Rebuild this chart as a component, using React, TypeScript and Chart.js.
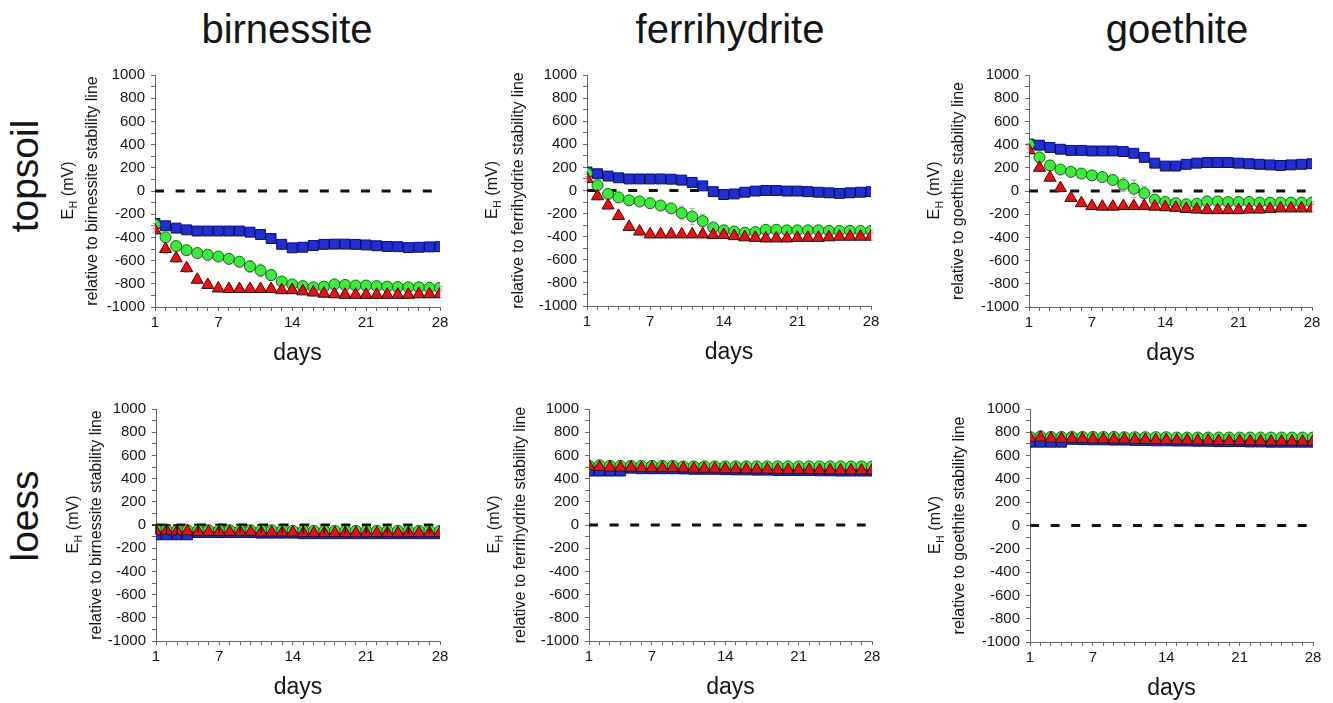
import React, { useEffect, useRef } from 'react';
import { Chart, registerables } from 'chart.js';

Chart.register(...registerables);
Chart.defaults.font.family = '"Liberation Sans", Arial, sans-serif';

// ---------- data ----------
const days = [1, 2, 3, 4, 5, 6, 7, 8, 9, 10, 11, 12, 13, 14, 15, 16, 17, 18, 19, 20, 21, 22, 23, 24, 25, 26, 27, 28];
const dayTickLabels = [1, 7, 14, 21, 28];
const yTickValues = [-1000, -900, -800, -700, -600, -500, -400, -300, -200, -100, 0, 100, 200, 300, 400, 500, 600, 700, 800, 900, 1000];
const yLabelledTicks = [-1000, -800, -600, -400, -200, 0, 200, 400, 600, 800, 1000];
const stabilityDays = [1, 27.4];
const stabilityLevel = 0;

const minerals = ['birnessite', 'ferrihydrite', 'goethite'];
const soils = ['topsoil', 'loess'];

// topsoil – birnessite
const topBirSquares = [-280, -300, -320, -335, -345, -345, -345, -345, -345, -355, -375, -410, -460, -490, -485, -470, -460, -458, -458, -460, -465, -472, -478, -480, -488, -485, -482, -480];
const topBirCircles = [-290, -400, -475, -510, -535, -550, -565, -585, -610, -650, -685, -725, -780, -805, -820, -830, -825, -805, -810, -815, -815, -820, -825, -828, -830, -830, -835, -835];
const topBirTriangles = [-340, -500, -580, -665, -765, -810, -840, -845, -845, -845, -845, -845, -855, -855, -865, -875, -885, -890, -895, -895, -895, -895, -895, -895, -895, -890, -890, -890];
const topBirCirclesErr = [10, 15, 15, 15, 15, 15, 20, 25, 30, 50, 55, 45, 25, 15, 15, 10, 10, 10, 10, 10, 10, 10, 10, 10, 10, 10, 10, 10];
const topBirTrianglesErr = [20, 40, 35, 35, 35, 30, 30, 30, 30, 30, 30, 30, 30, 30, 30, 30, 30, 30, 30, 30, 30, 30, 30, 30, 30, 30, 30, 30];

// topsoil – ferrihydrite
const topFerSquares = [160, 145, 125, 110, 100, 100, 100, 100, 98, 90, 70, 40, -10, -35, -30, -15, -5, 0, 0, -5, -5, -10, -15, -20, -25, -20, -15, -10];
const topFerCircles = [150, 45, -30, -60, -85, -95, -110, -130, -155, -195, -225, -265, -320, -345, -355, -365, -360, -340, -340, -345, -345, -345, -345, -350, -350, -350, -350, -350];
const topFerTriangles = [100, -50, -130, -220, -315, -355, -380, -380, -380, -380, -380, -380, -385, -385, -395, -405, -410, -415, -415, -415, -410, -410, -410, -405, -400, -400, -400, -400];
const topFerCirclesErr = [10, 15, 15, 15, 15, 15, 20, 25, 30, 60, 70, 60, 30, 15, 15, 10, 10, 10, 10, 10, 10, 10, 10, 10, 10, 10, 10, 10];
const topFerTrianglesErr = [20, 30, 30, 30, 30, 30, 30, 30, 30, 30, 30, 30, 30, 30, 30, 30, 30, 30, 30, 30, 30, 30, 30, 30, 30, 30, 30, 30];

// topsoil – goethite
const topGoeSquares = [405, 395, 375, 360, 350, 350, 345, 345, 345, 340, 325, 290, 240, 215, 215, 230, 240, 245, 245, 245, 240, 235, 230, 225, 220, 225, 230, 235];
const topGoeCircles = [400, 290, 220, 185, 165, 150, 135, 120, 95, 55, 20, -20, -75, -95, -105, -115, -110, -90, -90, -95, -95, -95, -100, -100, -100, -100, -100, -100];
const topGoeTriangles = [350, 200, 115, 25, -60, -105, -130, -135, -135, -130, -130, -130, -135, -140, -145, -155, -160, -165, -165, -165, -165, -160, -160, -155, -150, -150, -150, -150];
const topGoeCirclesErr = [10, 15, 15, 15, 15, 15, 20, 25, 30, 60, 75, 60, 30, 15, 15, 10, 10, 10, 10, 10, 10, 10, 10, 10, 10, 10, 10, 10];
const topGoeTrianglesErr = [20, 30, 30, 30, 30, 30, 30, 30, 30, 30, 30, 30, 30, 30, 30, 30, 30, 30, 30, 30, 30, 30, 30, 30, 30, 30, 30, 30];

// loess – birnessite
const loeBirSquares = [-85, -85, -85, -85, -65, -65, -65, -65, -65, -65, -70, -70, -70, -70, -75, -75, -75, -75, -75, -75, -75, -75, -75, -75, -75, -75, -75, -75];
const loeBirCircles = [-40, -40, -45, -45, -45, -45, -45, -45, -45, -45, -45, -45, -45, -50, -50, -50, -50, -50, -50, -50, -50, -50, -50, -50, -50, -50, -50, -50];
const loeBirTriangles = [-55, -50, -55, -55, -60, -60, -60, -60, -60, -60, -65, -65, -65, -65, -70, -70, -70, -70, -70, -70, -70, -70, -70, -70, -70, -70, -70, -70];
const loeBirSquaresErr = [85, 85, 85, 0, 70, 0, 70, 0, 70, 0, 72, 0, 72, 0, 78, 0, 78, 0, 78, 0, 78, 0, 78, 0, 78, 0, 78, 0];

// loess – ferrihydrite
const loeFerSquares = [465, 465, 465, 465, 490, 485, 485, 485, 485, 483, 480, 480, 480, 477, 475, 475, 473, 473, 470, 470, 470, 470, 467, 467, 465, 465, 465, 465];
const loeFerCircles = [510, 515, 510, 510, 510, 510, 510, 510, 510, 505, 505, 505, 505, 505, 505, 505, 505, 505, 505, 505, 505, 505, 505, 505, 505, 505, 505, 505];
const loeFerTriangles = [505, 500, 495, 495, 495, 490, 490, 490, 490, 488, 485, 485, 485, 482, 480, 480, 478, 478, 475, 475, 475, 475, 472, 472, 470, 470, 470, 470];

// loess – goethite
const loeGoeSquares = [715, 715, 715, 715, 740, 737, 735, 735, 733, 733, 730, 730, 727, 727, 725, 725, 723, 723, 720, 720, 720, 717, 717, 715, 715, 715, 715, 715];
const loeGoeCircles = [760, 765, 760, 760, 760, 760, 760, 760, 760, 758, 758, 758, 758, 758, 755, 755, 755, 755, 755, 755, 755, 755, 755, 755, 755, 755, 755, 755];
const loeGoeTriangles = [750, 755, 745, 745, 745, 742, 740, 740, 738, 738, 735, 735, 732, 732, 730, 730, 728, 728, 725, 725, 725, 722, 722, 720, 720, 720, 720, 720];

// ---------- styles ----------
const SQ_FILL = '#1f2fd4';
const SQ_EDGE = '#0c0c5a';
const CI_FILL = '#3cec3c';
const CI_EDGE = '#1e5a1e';
const TR_FILL = '#dc1616';
const TR_EDGE = '#560000';
const AXIS = '#666666';
const TEXT = '#151515';
const FONT = '"Liberation Sans", Arial, sans-serif';

const Y_AXIS_W = 105;
const PAD_TOP = 15;
const PAD_RIGHT = 20;
const X_AXIS_H = 63;

type Panel = {
  mineral: string;
  rect: [number, number, number, number];
  titleOff: [number, number];
  squares: number[];
  circles: number[];
  triangles: number[];
  squaresErr?: number[];
  circlesErr?: number[];
  trianglesErr?: number[];
  squaresErrBlack?: boolean;
};

const panels: Panel[] = [
  { mineral: minerals[0], rect: [155, 440, 75, 307], titleOff: [86, 62], squares: topBirSquares, circles: topBirCircles, triangles: topBirTriangles, circlesErr: topBirCirclesErr, trianglesErr: topBirTrianglesErr },
  { mineral: minerals[1], rect: [587, 871, 75, 306], titleOff: [94, 68], squares: topFerSquares, circles: topFerCircles, triangles: topFerTriangles, circlesErr: topFerCirclesErr, trianglesErr: topFerTrianglesErr },
  { mineral: minerals[2], rect: [1029, 1312, 75, 307], titleOff: [94, 70], squares: topGoeSquares, circles: topGoeCircles, triangles: topGoeTriangles, circlesErr: topGoeCirclesErr, trianglesErr: topGoeTrianglesErr },
  { mineral: minerals[0], rect: [156, 440, 409, 641], titleOff: [82, 59], squares: loeBirSquares, circles: loeBirCircles, triangles: loeBirTriangles, squaresErr: loeBirSquaresErr, squaresErrBlack: true },
  { mineral: minerals[1], rect: [589, 872, 409, 641], titleOff: [94, 68], squares: loeFerSquares, circles: loeFerCircles, triangles: loeFerTriangles },
  { mineral: minerals[2], rect: [1030, 1313, 409, 642], titleOff: [94, 70], squares: loeGoeSquares, circles: loeGoeCircles, triangles: loeGoeTriangles },
];

// ---------- plugins ----------
function drawErrors(chart: any, onTop: boolean) {
  const { ctx, scales } = chart;
  const xs = scales.x;
  const ys = scales.y;
  chart.data.datasets.forEach((ds: any) => {
    if (!ds.errors || !!ds.errorsOnTop !== onTop) return;
    ctx.save();
    ctx.strokeStyle = ds.errorColor;
    ctx.lineWidth = ds.errorWidth || 1;
    const cap = ds.errorCap || 2.5;
    ds.data.forEach((pt: any, j: number) => {
      const e = ds.errors[j];
      if (!e) return;
      const px = xs.getPixelForValue(pt.x);
      const yTop = ys.getPixelForValue(pt.y + e);
      const yBot = ds.errorsUpOnly ? ys.getPixelForValue(pt.y) : ys.getPixelForValue(pt.y - e);
      ctx.beginPath();
      ctx.moveTo(px, yTop);
      ctx.lineTo(px, yBot);
      ctx.moveTo(px - cap, yTop);
      ctx.lineTo(px + cap, yTop);
      if (!ds.errorsUpOnly) {
        ctx.moveTo(px - cap, yBot);
        ctx.lineTo(px + cap, yBot);
      }
      ctx.stroke();
    });
    ctx.restore();
  });
}

const errorBarsPlugin = {
  id: 'errorBars',
  beforeDatasetsDraw(chart: any) {
    drawErrors(chart, false);
  },
  afterDatasetsDraw(chart: any) {
    drawErrors(chart, true);
  },
};

const yTitlePlugin = {
  id: 'yTitle',
  afterDraw(chart: any, _args: any, opts: any) {
    const { ctx, chartArea } = chart;
    const yc = (chartArea.top + chartArea.bottom) / 2;
    const big = `16px ${FONT}`;
    const small = `10px ${FONT}`;
    ctx.save();
    ctx.fillStyle = TEXT;
    ctx.textBaseline = 'middle';
    ctx.textAlign = 'left';
    ctx.translate(chartArea.left - opts.off1, yc);
    ctx.rotate(-Math.PI / 2);
    ctx.font = big;
    const wE = ctx.measureText('E').width;
    const wRest = ctx.measureText(' (mV)').width;
    ctx.font = small;
    const wH = ctx.measureText('H').width;
    const x0 = -(wE + wH + wRest) / 2;
    ctx.font = big;
    ctx.fillText('E', x0, 0);
    ctx.font = small;
    ctx.fillText('H', x0 + wE + 0.5, 5);
    ctx.font = big;
    ctx.fillText(' (mV)', x0 + wE + wH + 1, 0);
    ctx.restore();

    ctx.save();
    ctx.fillStyle = TEXT;
    ctx.textBaseline = 'middle';
    ctx.textAlign = 'center';
    ctx.font = big;
    ctx.translate(chartArea.left - opts.off2, yc);
    ctx.rotate(-Math.PI / 2);
    ctx.fillText(`relative to ${opts.mineral} stability line`, 0, 0);
    ctx.restore();
  },
};

// ---------- components ----------
function PanelChart({ p }: { p: Panel }) {
  const ref = useRef<HTMLCanvasElement>(null);
  const [L, R, T, B] = p.rect;
  const left = L - Y_AXIS_W;
  const top = T - PAD_TOP;
  const width = R - L + Y_AXIS_W + PAD_RIGHT;
  const height = B - T + PAD_TOP + X_AXIS_H;

  useEffect(() => {
    if (!ref.current) return;
    const toPts = (vals: number[]) => days.map((d, i) => ({ x: d, y: vals[i] }));
    const chart = new Chart(ref.current, {
      type: 'scatter',
      data: {
        datasets: [
          {
            data: stabilityDays.map((d) => ({ x: d, y: stabilityLevel })),
            showLine: true,
            borderColor: '#111111',
            borderWidth: 3,
            borderDash: [9, 11.6],
            pointRadius: 0,
            order: 4,
          } as any,
          {
            data: toPts(p.squares),
            pointStyle: 'rect',
            pointRadius: 7,
            backgroundColor: SQ_FILL,
            borderColor: SQ_EDGE,
            borderWidth: 1,
            order: 3,
            errors: p.squaresErr,
            errorColor: p.squaresErrBlack ? '#111111' : '#aaaaaa',
            errorsOnTop: !!p.squaresErrBlack,
            errorsUpOnly: !!p.squaresErrBlack,
            errorCap: p.squaresErrBlack ? 4 : 2.5,
            errorWidth: p.squaresErrBlack ? 1.5 : 1,
          } as any,
          {
            data: toPts(p.circles),
            pointStyle: 'circle',
            pointRadius: 5.5,
            backgroundColor: CI_FILL,
            borderColor: CI_EDGE,
            borderWidth: 1,
            order: 2,
            errors: p.circlesErr,
            errorColor: '#aaaaaa',
          } as any,
          {
            data: toPts(p.triangles),
            pointStyle: 'triangle',
            pointRadius: 7,
            backgroundColor: TR_FILL,
            borderColor: TR_EDGE,
            borderWidth: 1,
            order: 1,
            errors: p.trianglesErr,
            errorColor: '#aaaaaa',
          } as any,
        ],
      },
      options: {
        responsive: false,
        animation: false,
        devicePixelRatio: 1,
        layout: { padding: { top: PAD_TOP, right: PAD_RIGHT, left: 0, bottom: 0 } },
        plugins: {
          legend: { display: false },
          tooltip: { enabled: false },
          yTitle: { mineral: p.mineral, off1: p.titleOff[0], off2: p.titleOff[1] },
        } as any,
        scales: {
          x: {
            type: 'linear',
            min: days[0],
            max: days[days.length - 1],
            afterBuildTicks: (s: any) => {
              s.ticks = days.map((v) => ({ value: v }));
            },
            afterFit: (s: any) => {
              s.height = X_AXIS_H;
            },
            ticks: {
              autoSkip: false,
              maxRotation: 0,
              padding: 3,
              color: TEXT,
              font: { size: 15 },
              callback: (v: any) => (dayTickLabels.includes(Number(v)) ? String(v) : ''),
            },
            grid: { drawOnChartArea: false, tickLength: 4, color: AXIS },
            border: { color: AXIS, width: 1 },
            title: {
              display: true,
              text: 'days',
              color: TEXT,
              font: { size: 23 },
              padding: { top: 0, bottom: 3 },
            },
          },
          y: {
            type: 'linear',
            min: yTickValues[0],
            max: yTickValues[yTickValues.length - 1],
            afterBuildTicks: (s: any) => {
              s.ticks = yTickValues.map((v) => ({ value: v }));
            },
            afterFit: (s: any) => {
              s.width = Y_AXIS_W;
            },
            ticks: {
              autoSkip: false,
              padding: 6,
              color: TEXT,
              font: { size: 15 },
              callback: (v: any) => (yLabelledTicks.includes(Number(v)) ? String(v) : ''),
            },
            grid: { drawOnChartArea: false, tickLength: 4, color: AXIS },
            border: { color: AXIS, width: 1 },
          },
        },
      },
      plugins: [errorBarsPlugin, yTitlePlugin],
    } as any);
    return () => chart.destroy();
  }, []);

  return (
    <canvas
      ref={ref}
      width={width}
      height={height}
      style={{ position: 'absolute', left, top, width, height }}
    />
  );
}

const colTitleX = [287, 730, 1177];
const rowLabelY = [176, 516];

export default function App() {
  return (
    <div
      style={{
        position: 'absolute',
        left: 0,
        top: 0,
        width: 1333,
        height: 703,
        overflow: 'hidden',
        background: '#ffffff',
        fontFamily: FONT,
        color: TEXT,
      }}
    >
      {minerals.map((m, i) => (
        <div
          key={m}
          style={{
            position: 'absolute',
            left: colTitleX[i],
            top: 29,
            transform: 'translate(-50%, -50%)',
            fontSize: 40,
            lineHeight: 1,
            whiteSpace: 'nowrap',
          }}
        >
          {m}
        </div>
      ))}
      {soils.map((s, i) => (
        <div
          key={s}
          style={{
            position: 'absolute',
            left: 24,
            top: rowLabelY[i],
            transform: 'translate(-50%, -50%) rotate(-90deg)',
            fontSize: 39,
            lineHeight: 1,
            whiteSpace: 'nowrap',
          }}
        >
          {s}
        </div>
      ))}
      {panels.map((p, i) => (
        <PanelChart key={i} p={p} />
      ))}
    </div>
  );
}
